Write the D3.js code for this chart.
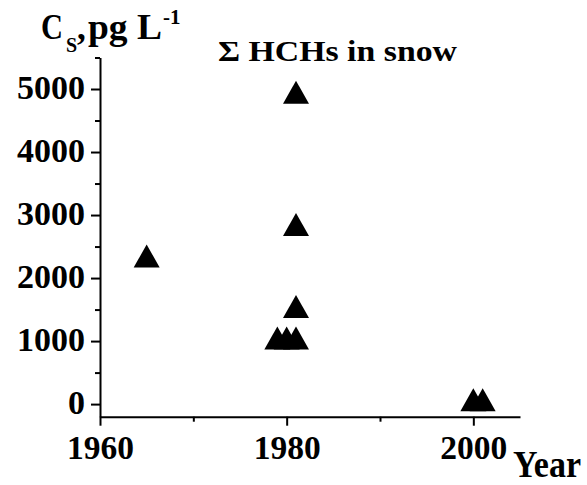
<!DOCTYPE html>
<html><head><meta charset="utf-8">
<script src="https://cdn.jsdelivr.net/npm/d3@7"></script>
<style>body{margin:0;background:#fff}svg{display:block}svg text{font-family:"Liberation Serif","Times New Roman",serif !important;font-weight:bold;fill:#000}</style>
</head><body><svg id="c" width="587" height="485"></svg>
<script>
const years = [1965, 1979, 1980, 1981, 1981, 1981, 1981, 2000, 2001];
const values = [2350, 1050, 1050, 1050, 1550, 2850, 4950, 70, 70];
const yMajorTicks = [0, 1000, 2000, 3000, 4000, 5000];
const yMinorTicks = [500, 1500, 2500, 3500, 4500, 5500];
const xMajorTicks = [1960, 1980, 2000];
const xMinorTicks = [1970, 1990];

const svg = d3.select("#c");
const x = d3.scaleLinear().domain([1960, 2005]).range([100, 520]);
const y = d3.scaleLinear().domain([-200, 5500]).range([416.7, 57.5]);

// minor ticks
svg.append("g").attr("transform","translate(100,0)")
  .call(d3.axisLeft(y).tickValues(yMinorTicks).tickSize(5).tickSizeOuter(0).tickFormat(""))
  .call(g=>g.select(".domain").remove())
  .selectAll("line").attr("stroke","#000").attr("stroke-width",2);
svg.append("g").attr("transform","translate(0,416.7)")
  .call(d3.axisBottom(x).tickValues(xMinorTicks).tickSize(5).tickSizeOuter(0).tickFormat(""))
  .call(g=>g.select(".domain").remove())
  .selectAll("line").attr("stroke","#000").attr("stroke-width",2);

// major axes
const ya = svg.append("g").attr("transform","translate(100,0)")
  .call(d3.axisLeft(y).tickValues(yMajorTicks).tickSize(9).tickSizeOuter(0).tickPadding(6).tickFormat(d3.format("d")));
ya.attr("font-family",null).attr("font-size",null);
ya.select(".domain").attr("stroke","#000").attr("stroke-width",2);
ya.selectAll("line").attr("stroke","#000").attr("stroke-width",2);
ya.selectAll("text").attr("font-size",34).attr("dy","0.29em")
  .each(function(d){ d3.select(this).attr("textLength", String(d).length*17).attr("lengthAdjust","spacingAndGlyphs"); });

const xa = svg.append("g").attr("transform","translate(0,416.7)")
  .call(d3.axisBottom(x).tickValues(xMajorTicks).tickSize(9).tickSizeOuter(0).tickPadding(10).tickFormat(d3.format("d")));
xa.attr("font-family",null).attr("font-size",null);
xa.select(".domain").attr("stroke","#000").attr("stroke-width",2);
xa.selectAll("line").attr("stroke","#000").attr("stroke-width",2);
xa.selectAll("text").attr("font-size",34).attr("dy","0.69em")
  .attr("textLength",67).attr("lengthAdjust","spacingAndGlyphs");

// triangles
const tw = 26, th = 23;
svg.append("g").selectAll("path").data(years.map((yr,i)=>[yr, values[i]])).join("path")
  .attr("d", d => {
    const cx = x(d[0]), cy = y(d[1]);
    return `M${cx},${cy-th/2}L${cx+tw/2},${cy+th/2}L${cx-tw/2},${cy+th/2}Z`;
  })
  .attr("fill","#000");

// title
svg.append("text").attr("x",218).attr("y",61).attr("font-size",29)
  .attr("textLength",239).attr("lengthAdjust","spacingAndGlyphs").text("Σ HCHs in snow");

// x label
svg.append("text").attr("x",513).attr("y",477).attr("font-size",37)
  .attr("textLength",68).attr("lengthAdjust","spacingAndGlyphs").text("Year");

// y label
svg.append("text").attr("x",41).attr("y",39).attr("font-size",35).attr("textLength",22).attr("lengthAdjust","spacingAndGlyphs").text("C");
svg.append("text").attr("x",66).attr("y",52).attr("font-size",20).text("S");
svg.append("text").attr("x",77).attr("y",39).attr("font-size",35).text(",");
svg.append("text").attr("x",88).attr("y",39).attr("font-size",35).attr("textLength",74).attr("lengthAdjust","spacingAndGlyphs").text("pg L");
svg.append("text").attr("x",163).attr("y",24).attr("font-size",21).text("-1");
</script></body></html>
